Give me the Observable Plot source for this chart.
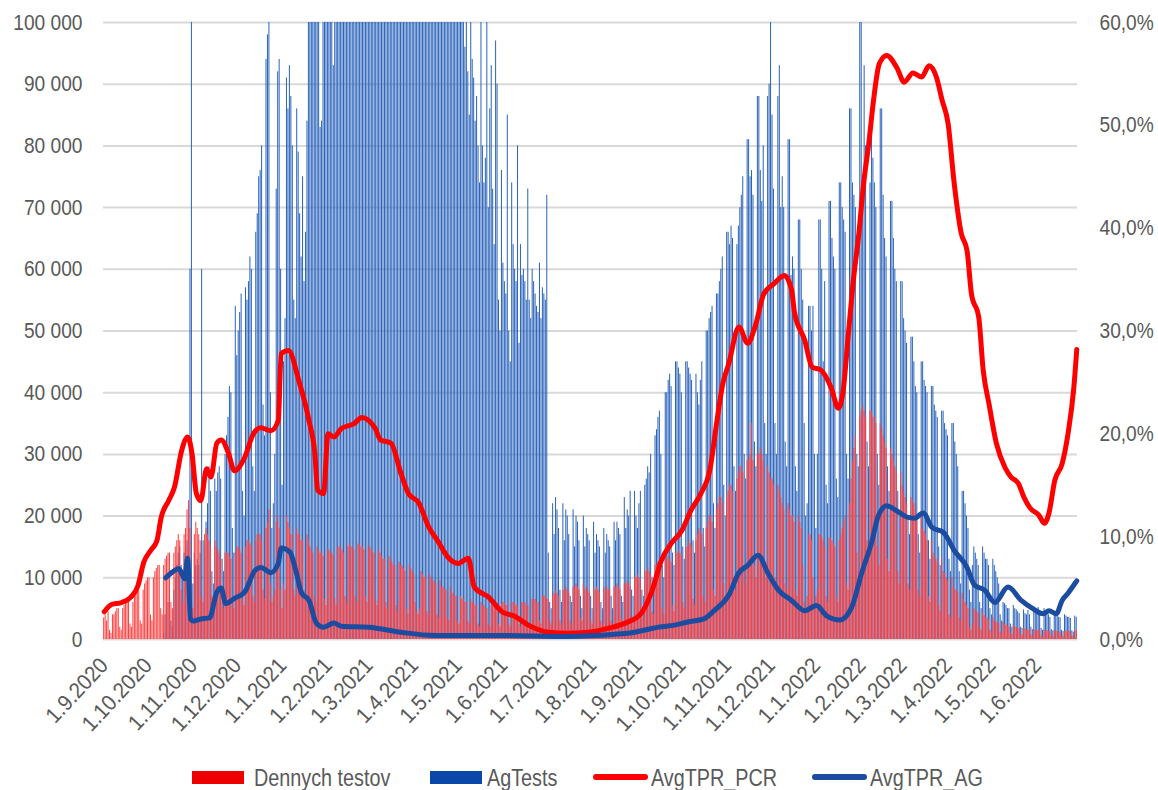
<!DOCTYPE html>
<html>
<head>
<meta charset="utf-8">
<script src="https://cdn.jsdelivr.net/npm/d3@7"></script>
<script src="https://cdn.jsdelivr.net/npm/@observablehq/plot@0.6"></script>
<style>
html, body { margin: 0; padding: 0; background: #fff; overflow: hidden; }
#wrap { position: relative; width: 1158px; height: 790px; font-family: "Liberation Sans", Arial, sans-serif; }
#chart { position: absolute; left: 0; top: 0; }
.sw { position: absolute; }
.lt { position: absolute; font-size: 23px; color: #595959; line-height: 23px; white-space: nowrap; transform: scaleX(0.86); transform-origin: 0 50%; }
</style>
</head>
<body>
<div id="wrap"><div id="chart"></div><div id="legend"></div></div>
<script>
// ---- data (tests in thousands per day, starting 1.9.2020, one row = one week Tue..Mon) ----
const firstDay = "2020-09-01";

const agTests = [
0,0,0,0,0,0,0,
0,0,0,0,0,0,0,
0,0,0,0,0,0,0,
0,0,0,0,0,0,0,
0,0,0,0,0,0,0,
0,0,0,0,0,0,1,
4,5,6,7,3,2,8,
10,12,14,15,12,10,14,
15,16,19,60,150,9,14,
12,13,12,14,60,16,15,
19,22,28,24,11,9,26,
24,27,28,26,13,11,30,
33,36,41,40,18,14,54,
46,50,53,56,24,20,57,
55,58,62,60,28,24,66,
69,75,76,80,38,33,94,
98,105,40,18,22,30,73,
92,94,60,25,45,52,91,
86,93,88,80,55,52,86,
79,69,62,75,58,66,84,
130,140,150,145,160,150,140,
120,83,84,115,105,101,130,
130,125,120,93,110,104,145,
150,145,140,138,115,108,160,
158,152,148,145,118,110,165,
160,155,150,146,120,112,170,
165,160,155,150,122,114,175,
168,160,156,150,124,113,178,
165,158,152,148,120,110,172,
160,154,148,140,118,108,168,
155,150,135,120,110,104,112,
158,150,145,138,115,106,160,
150,145,140,132,112,104,155,
145,138,132,125,110,102,148,
138,130,125,118,105,101,140,
120,112,96,104,92,85,115,
94,91,84,88,80,74,104,
80,74,78,110,70,86,93,
73,64,97,90,55,50,76,
61,58,56,85,50,45,74,
64,60,58,80,48,64,59,
60,58,55,73,55,52,60,
58,56,54,53,61,52,57,
56,55,72,14,6,5,22,
17,23,21,18,8,6,22,
16,21,20,17,7,6,21,
15,20,19,16,7,5,20,
15,18,17,16,7,5,19,
14,17,16,15,6,5,18,
14,17,16,15,7,5,19,
16,19,18,17,7,6,23,
18,21,20,24,8,7,24,
20,18,22,24,8,7,25,
26,28,27,30,10,8,33,
34,36,37,30,12,10,40,
40,42,43,41,14,12,45,
45,44,43,40,15,13,45,
45,44,43,42,16,14,43,
40,38,42,45,18,15,50,
50,52,53,54,22,18,56,
56,58,60,62,25,20,66,
66,64,67,65,28,24,64,
67,70,72,75,30,26,81,
81,75,76,72,32,28,88,
88,76,71,80,35,30,88,
90,100,85,73,35,30,88,
93,70,75,70,32,28,81,
81,59,62,60,28,24,68,
68,60,55,35,20,22,54,
54,50,54,30,18,30,68,
68,60,45,58,25,22,71,
71,65,62,60,26,23,74,
74,70,68,66,30,26,86,
86,74,72,70,30,28,100,
100,72,93,80,32,28,74,
86,78,74,70,30,25,86,
86,72,65,62,28,24,71,
71,65,60,58,24,20,58,
58,52,50,48,20,17,49,
49,45,41,40,17,14,45,
45,42,41,40,16,13,41,
41,38,37,36,15,12,37,
37,35,34,33,13,11,35,
35,32,30,28,11,9,24,
24,22,20,18,8,6,12,
15,14,13,12,6,5,15,
14,13,13,12,5,4,13,
12,11,10,9,4,3,6,
5.8,5.5,5,5,2.5,2,5.5,
5,4.8,4.5,4.2,2,1.8,4.8,
4.2,4,4.7,4,2,1.6,4.5,
4.7,4.5,5.2,4,1.8,1.5,5,
4.5,4.2,4,3.6,1.6,1.4,4.2,
4,3.8,3.6,3.5,1.5,1.3,4,
3.8,3.6,3.6,3.4,1.4,1.2,3.8,
3.6
];

const pcrTests = [
3.5,4,3,4.5,1.5,1,4,
4,4.5,5,5,2,1.5,5,
5.5,6,6,6.5,2.5,2,6,
7,7.5,8,8,3,2.5,8,
9,9.5,10,10,4,3,10,
11,11.5,12,12,5,4,12,
13,13.5,14,14,6,5,14,
15,16,17,16,8,6,17,
18,21,22.5,18,6,5,17,
19,18,17,16,7,6,17,
18,17,16,15,7,6,16,
15,14.5,14,13,6,5,14,
14,14,13.5,13,6,5,14,
15,15,14.5,14,6.5,5.5,15,
16,16,15.5,15,7,6,16,
17,17,17,16,8,6.5,18,
19,21,9,6,7,8,19,
20,18,8,5,9,8,20,
19,18,17,17,8,7,18,
17,17,16,16,8,7,17,
16,15,14.5,14,7,6,15,
14.5,14,14,13.5,6.5,5.5,14.5,
14.5,14,14,13.5,6.5,5.5,15,
15,15,14.5,14,7,6,15,
15.5,15,15,14.5,7,6,15.5,
15.5,15,15,14.5,7,6,15,
15,14.5,14,14,6.5,5.5,14.5,
14,13.5,13,13,6,5,13.5,
13,12.5,12,12,5.5,4.5,12.5,
12,12,11.5,11,5,4,12,
11.5,11,10.5,6,4.5,4,5,
11,10.5,10,10,4.5,4,10.5,
10,9.5,9.5,9,4,3.5,9.5,
8.5,8.5,8,8,3.5,3,8.5,
7.5,7.5,7,7,3,2.5,7,
6.5,6.5,6,6,3,2.5,6.5,
6,6,5.5,5.5,2.5,2,6,
5.5,5.5,5,5,2.5,2,5.5,
5.5,5.5,5.5,5,2.5,2,5.8,
6,6,5.5,5.5,2.5,2,6,
6,5.8,5.5,5.5,2.5,2,6,
6,6,5.5,5.5,2.5,2,6.5,
6.5,6.5,6,6,3,2.5,7,
7,7,6.5,6.5,3,2.5,7,
7.5,8,7.5,7,3,2.5,8,
8,8.5,8,7.5,3,2.5,8.5,
8.5,9,8.5,8,3.5,3,9,
8,8.5,8,7.5,3,2.5,8.5,
8,8.5,8,7.5,3,2.5,8.5,
8,8.5,8,8,3,2.5,8.5,
8.5,9,8.5,8,3.5,3,9,
9,9.5,9,8.5,3.5,3,10,
10,10.5,10,9.5,4,3.5,11,
11,11.5,11,10.5,4.5,4,12,
12,12.5,12,11.5,5,4,13,
13,13.5,13,12.5,5.5,4.5,14,
14,14.5,14,13.5,6,5,15,
15,16,15.5,15,6.5,5.5,16,
17,18,17.5,17,7,6,18,
19,20,20,19,8,7,21,
22,23,23,22,9,7,23,
24,25,25,24,10,8,26,
27,28,28,27,11,9,29,
29,30,35,29,12,10,30,
30,31,30,29,12,10,28,
27,26,26,25,10,9,25,
24,23,22,21,9,8,22,
21,20,20,19,8,7,20,
19,18,12,6,5,7,17,
17,16,10,5,7,8,17,
17,16.5,16,15,7,6,16.5,
16.5,16,15.5,15,7,6,16,
17,18,19,20,9,8,22,
26,29,31,33,14,11,36,
37,38,37,36,16,13,37,
37,36,36,35,15,12,35,
34,33,32,31,13,11,31,
30,29,28,27,11,9,27,
25,24,23,22,9,8,23,
22.5,22,21,20,8,7,20,
18,17.5,17,16,7,6,16,
14,13.5,13,12.5,5.5,4.5,13,
11,10.7,10,9.5,4,3.5,10,
8.5,8,8,7.5,3.5,3,7.5,
6.5,6,5.5,5,2,1.5,2.5,
5,4.8,4.5,4.2,2,1.5,4.5,
3.8,3.6,3.5,3.2,1.5,1.2,3.6,
3,2.8,2.7,2.6,1.2,1,2.8,
2.4,2.3,2.2,2,1,0.8,2.3,
2,1.9,1.8,1.7,0.8,0.7,1.9,
1.7,1.6,1.5,1.5,0.7,0.6,1.6,
1.5,1.5,1.4,1.4,0.6,0.5,1.5,
1.4,1.4,1.3,1.3,0.6,0.5,1.4,
1.3,1.3,1.2,1.2,0.5,0.5,1.3,
1.3,1.3,1.3,1.2,0.5,0.5,1.4,
1.4
];

// 7-day average test positivity (%), right axis
const pcrRateDates = ["2020-09-01","2020-09-06","2020-09-13","2020-09-19","2020-09-24","2020-09-28","2020-10-03","2020-10-07","2020-10-10","2020-10-15","2020-10-19","2020-10-24","2020-10-28","2020-10-31","2020-11-03","2020-11-06","2020-11-10","2020-11-13","2020-11-17","2020-11-20","2020-11-25","2020-11-29","2020-12-06","2020-12-12","2020-12-17","2020-12-24","2020-12-29","2020-12-31","2021-01-05","2021-01-12","2021-01-19","2021-01-23","2021-01-25","2021-01-29","2021-02-01","2021-02-05","2021-02-10","2021-02-19","2021-02-24","2021-03-05","2021-03-09","2021-03-16","2021-03-23","2021-03-28","2021-04-04","2021-04-11","2021-04-17","2021-04-24","2021-05-01","2021-05-08","2021-05-12","2021-05-22","2021-05-31","2021-06-08","2021-06-18","2021-07-02","2021-07-15","2021-07-29","2021-08-12","2021-08-25","2021-09-03","2021-09-10","2021-09-17","2021-09-24","2021-10-01","2021-10-07","2021-10-14","2021-10-20","2021-10-25","2021-10-29","2021-11-02","2021-11-09","2021-11-15","2021-11-20","2021-11-26","2021-12-03","2021-12-10","2021-12-15","2021-12-17","2021-12-24","2021-12-29","2022-01-04","2022-01-11","2022-01-16","2022-01-19","2022-01-23","2022-01-26","2022-01-30","2022-02-02","2022-02-06","2022-02-09","2022-02-13","2022-02-18","2022-02-25","2022-03-02","2022-03-08","2022-03-14","2022-03-19","2022-03-24","2022-03-28","2022-04-01","2022-04-05","2022-04-10","2022-04-14","2022-04-17","2022-04-22","2022-04-25","2022-04-29","2022-05-04","2022-05-10","2022-05-14","2022-05-19","2022-05-23","2022-05-27","2022-06-02","2022-06-06","2022-06-09","2022-06-13","2022-06-18","2022-06-22","2022-06-26","2022-06-28"];
const pcrRate = [2.7,3.4,3.6,4.1,5.2,7.5,8.7,9.6,11.9,13.5,14.8,18.4,19.7,18.1,14.2,13.5,16.6,15.8,19.1,19.4,18.1,16.4,17.7,20.0,20.6,20.3,21.3,27.8,28.1,25.2,21.3,18.1,14.5,14.2,20.0,19.7,20.5,21.0,21.6,20.6,19.4,19.1,16.1,14.2,13.3,10.9,9.6,8.0,7.4,7.9,5.1,4.1,2.7,2.3,1.4,0.7,0.6,0.7,1.1,1.7,2.5,4.5,7.7,9.4,10.6,12.5,14.2,16.4,21.3,24.9,26.8,30.4,28.8,30.4,33.6,34.6,35.4,34.0,31.8,29.1,26.5,26.2,24.5,22.5,23.9,30.0,34.6,39.5,44.0,48.5,52.4,56.0,56.8,55.6,54.2,55.1,54.7,55.8,54.7,52.4,50.2,44.6,39.5,37.8,33.6,31.3,26.2,22.9,19.1,16.7,15.8,15.2,13.8,12.8,12.1,11.3,12.3,15.5,17.1,20.0,24.5,28.2];

const agRateDates = ["2020-10-13","2020-10-18","2020-10-22","2020-10-26","2020-10-28","2020-10-30","2020-11-01","2020-11-06","2020-11-12","2020-11-17","2020-11-20","2020-11-23","2020-11-29","2020-12-06","2020-12-13","2020-12-17","2020-12-24","2020-12-29","2020-12-31","2021-01-06","2021-01-10","2021-01-14","2021-01-19","2021-01-24","2021-01-29","2021-02-05","2021-02-10","2021-03-01","2021-03-23","2021-04-15","2021-05-08","2021-05-31","2021-07-15","2021-08-25","2021-09-05","2021-09-15","2021-09-26","2021-10-05","2021-10-16","2021-10-23","2021-11-02","2021-11-09","2021-11-15","2021-11-22","2021-11-29","2021-12-06","2021-12-15","2021-12-24","2022-01-01","2022-01-08","2022-01-17","2022-01-25","2022-02-01","2022-02-08","2022-02-12","2022-02-18","2022-02-25","2022-03-04","2022-03-09","2022-03-15","2022-03-21","2022-03-29","2022-04-05","2022-04-14","2022-04-19","2022-04-26","2022-05-03","2022-05-12","2022-05-21","2022-05-29","2022-06-05","2022-06-09","2022-06-14","2022-06-18","2022-06-22","2022-06-26","2022-06-28"];
const agRate = [6.0,6.6,6.9,5.9,7.9,2.0,1.8,2.0,2.1,4.6,5.0,3.5,4.0,4.6,6.7,7.0,6.5,7.4,8.9,8.5,6.7,4.5,3.8,1.6,1.2,1.6,1.3,1.2,0.7,0.4,0.4,0.4,0.3,0.6,0.9,1.2,1.4,1.7,2.0,2.8,4.3,6.5,7.2,8.2,6.4,4.8,3.8,2.8,3.3,2.3,1.9,3.1,6.5,9.6,11.9,13.0,12.5,11.9,11.8,12.3,10.9,10.4,8.7,7.0,5.3,4.8,3.6,5.1,3.8,3.0,2.5,2.8,2.5,3.8,4.5,5.3,5.7];

const leftTicks = [0,10000,20000,30000,40000,50000,60000,70000,80000,90000,100000];
const rightTicks = [0,10,20,30,40,50,60];
const monthLabels = ["1.9.2020","1.10.2020","1.11.2020","1.12.2020","1.1.2021","1.2.2021","1.3.2021","1.4.2021","1.5.2021","1.6.2021","1.7.2021","1.8.2021","1.9.2021","1.10.2021","1.11.2021","1.12.2021","1.1.2022","1.2.2022","1.3.2022","1.4.2022","1.5.2022","1.6.2022"];
const seriesNames = ["Dennych testov","AgTests","AvgTPR_PCR","AvgTPR_AG"];
const colors = { pcrBar: "#ff4040", agBar: "#2c64bb", pcrLine: "#ff0000", agLine: "#1b4c9f" };

// ---- build ----
const start = new Date(firstDay + "T00:00:00Z");
const end = d3.utcDay.offset(start, agTests.length);
const days = d3.utcDay.range(start, end);
const bars = days.map((d, i) => ({ d0: d, d1: d3.utcDay.offset(d, 1), ag: agTests[i] * 1000, pcr: pcrTests[i] * 1000 }));
const mid = s => new Date(s + "T12:00:00Z");
const pcrLine = pcrRateDates.map((s, i) => ({ date: mid(s), v: pcrRate[i] }));
const agLine = agRateDates.map((s, i) => ({ date: mid(s), v: agRate[i] }));
const yR = p => p / 60 * 100000;
const monthTicks = monthLabels.map(s => { const [dd, mm, yy] = s.split(".").map(Number); return new Date(Date.UTC(yy, mm - 1, dd, 12)); });
const fmtDate = d => `${d.getUTCDate()}.${d.getUTCMonth() + 1}.${d.getUTCFullYear()}`;
const fmtLeft = d => d3.format(",")(d).replace(/,/g, " ");
const fmtRight = d => (Math.round(d / 100000 * 60)).toFixed(1).replace(".", ",") + "%";
const font = '"Liberation Sans", Arial, sans-serif';

const chart = Plot.plot({
  width: 1158,
  height: 750,
  marginLeft: 103,
  marginRight: 81,
  marginTop: 22,
  marginBottom: 111,
  x: { type: "utc", domain: [start, end] },
  y: { domain: [0, 100000], clamp: true },
  style: { fontFamily: font, fontSize: "22px", color: "#595959", background: "white", overflow: "visible" },
  marks: [
    Plot.ruleY(leftTicks, { stroke: "#d9d9d9", strokeWidth: 2 }),
    Plot.rect(bars, { x1: "d0", x2: "d1", y1: 0, y2: "ag", fill: colors.agBar, insetLeft: 0.15, insetRight: 0.3 }),
    Plot.rect(bars, { x1: "d0", x2: "d1", y1: 0, y2: "pcr", fill: colors.pcrBar, insetLeft: 0.15, insetRight: 0.3 }),
    Plot.line(pcrLine, { x: "date", y: d => yR(d.v), stroke: colors.pcrLine, strokeWidth: 5, curve: "monotone-x" }),
    Plot.line(agLine, { x: "date", y: d => yR(d.v), stroke: colors.agLine, strokeWidth: 5, curve: "monotone-x" }),
    Plot.axisY(leftTicks, { anchor: "left", tickSize: 0, tickPadding: 21, tickFormat: fmtLeft, label: null, fontSize: 22 }),
    Plot.axisY(rightTicks.map(yR), { anchor: "right", tickSize: 0, tickPadding: 22, tickFormat: fmtRight, label: null, fontSize: 22 }),
    Plot.axisX(monthTicks, { tickSize: 0, tickPadding: 22, tickRotate: -47, tickFormat: fmtDate, label: null, fontSize: 22 })
  ]
});
document.getElementById("chart").appendChild(chart);

// condense axis text horizontally around its anchor (the reference uses a narrow face)
function condense(selector, k) {
  chart.querySelectorAll(selector).forEach(t => {
    const tr = t.getAttribute("transform") || "";
    t.setAttribute("transform", (tr + ` scale(${k},1)`).trim());
  });
}
condense('g[aria-label="y-axis tick label"] text', 0.87);
condense('g[aria-label="x-axis tick label"] text', 0.93);

// ---- legend ----
const legend = document.getElementById("legend");
const items = [
  { name: seriesNames[0], kind: "rect", color: "#ee0000", left: 192, textLeft: 254 },
  { name: seriesNames[1], kind: "rect", color: "#0a47a8", left: 430, textLeft: 487 },
  { name: seriesNames[2], kind: "line", color: colors.pcrLine, left: 593, textLeft: 651 },
  { name: seriesNames[3], kind: "line", color: colors.agLine, left: 812, textLeft: 870 }
];
for (const it of items) {
  const sw = document.createElement("div");
  sw.className = "sw";
  sw.style.left = it.left + "px";
  sw.style.background = it.color;
  if (it.kind === "rect") { sw.style.top = "771px"; sw.style.width = "52px"; sw.style.height = "13px"; }
  else { sw.style.top = "774px"; sw.style.width = "55px"; sw.style.height = "6px"; sw.style.borderRadius = "3px"; }
  legend.appendChild(sw);
  const t = document.createElement("div");
  t.className = "lt";
  t.style.left = it.textLeft + "px";
  t.style.top = "767px";
  t.textContent = it.name;
  legend.appendChild(t);
}
</script>
</body>
</html>
